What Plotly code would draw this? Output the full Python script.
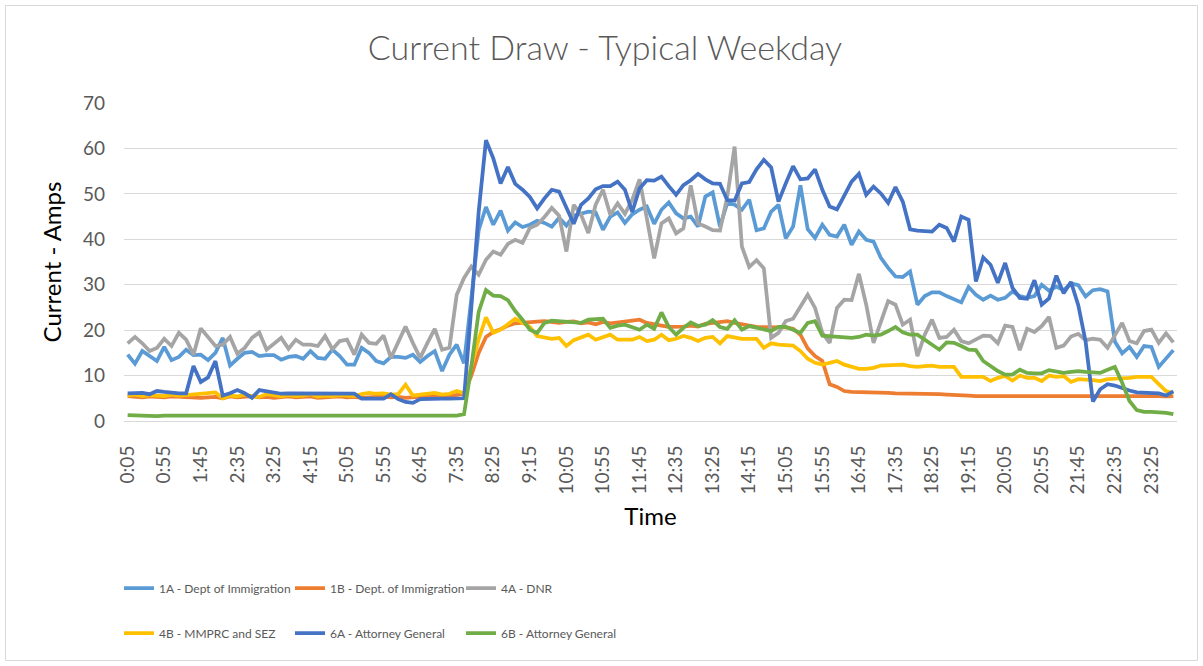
import plotly.graph_objects as go

# Time of day, every 10 minutes from 0:05 to 23:55
times = [f"{(5 + 10 * k) // 60}:{(5 + 10 * k) % 60:02d}" for k in range(144)]
tick_labels = times[::5]

s1a = [14.6, 12.6, 15.4, 14.3, 13.2, 16.3, 13.4, 14.1, 15.7, 14.5,
       14.6, 13.4, 15.0, 18.3, 12.2, 13.7, 15.0, 15.2, 14.3, 14.5,
       14.5, 13.5, 14.1, 14.3, 13.7, 15.4, 13.9, 13.7, 15.7, 14.3,
       12.4, 12.4, 16.1, 15.0, 13.2, 12.7, 14.1, 14.1, 13.9, 14.6,
       13.0, 14.3, 15.4, 11.0, 14.6, 16.8, 12.7, 27.0, 42.0, 47.1,
       43.2, 46.3, 41.9, 43.7, 42.7, 43.2, 44.1, 43.6, 42.8, 44.7,
       43.0, 45.2, 45.6, 46.1, 45.9, 42.1, 45.0, 45.9, 43.6, 45.5,
       46.5, 47.2, 43.4, 46.5, 48.1, 45.7, 44.6, 45.0, 42.8, 49.4,
       50.3, 42.8, 48.0, 47.6, 46.5, 48.7, 42.0, 42.4, 46.1, 47.6,
       40.2, 42.8, 51.9, 42.2, 40.3, 43.2, 41.0, 40.6, 43.2, 38.8,
       41.7, 39.9, 39.5, 35.9, 33.7, 31.8, 31.7, 32.9, 25.6, 27.5,
       28.3, 28.3, 27.5, 26.7, 26.1, 29.5, 27.8, 26.7, 27.6, 26.7,
       27.1, 28.5, 27.5, 27.1, 27.5, 30.0, 28.7, 29.6, 28.8, 30.3,
       29.9, 27.4, 28.8, 29.0, 28.5, 17.5, 14.9, 16.3, 14.1, 16.5,
       16.3, 11.9, 13.8, 15.6]

s1b = [5.5, 5.3, 5.2, 5.4, 5.3, 5.2, 5.4, 5.3, 5.2, 5.3,
       5.1, 5.2, 5.3, 5.0, 5.4, 5.2, 5.3, 5.5, 5.2, 5.3,
       5.1, 5.3, 5.4, 5.2, 5.3, 5.4, 5.1, 5.2, 5.3, 5.4,
       5.2, 5.3, 5.1, 5.2, 5.3, 5.4, 5.2, 5.3, 5.1, 5.3,
       5.4, 5.5, 5.3, 5.6, 5.5, 5.8, 6.0, 10.0, 15.0, 18.5,
       19.6, 20.2, 21.0, 21.5, 21.7, 21.8, 21.9, 22.0, 21.8, 21.6,
       21.8, 21.9, 21.5, 21.7, 21.3, 21.8, 21.5, 21.6, 21.9, 22.1,
       22.3, 21.6, 21.2, 21.0, 20.7, 20.7, 20.8, 21.0, 20.8, 21.4,
       21.6, 21.7, 22.0, 21.6, 21.2, 21.0, 20.7, 20.7, 20.6, 20.5,
       20.6, 20.3, 19.0, 16.0, 14.3, 13.2, 8.1, 7.5, 6.6, 6.4,
       6.4, 6.4, 6.3, 6.3, 6.2, 6.1, 6.1, 6.0, 6.0, 5.9,
       5.9, 5.9, 5.8, 5.8, 5.7, 5.6, 5.5, 5.5, 5.6, 5.6,
       5.7, 5.7, 5.6, 5.5, 5.6, 5.6, 5.7, 5.6, 5.6, 5.5,
       5.5, 5.6, 5.6, 5.6, 5.7, 5.6, 5.5, 5.5, 5.5, 5.6,
       5.6, 5.5, 5.4, 5.5]

s4a = [17.1, 18.5, 17.1, 15.4, 16.1, 18.1, 16.5, 19.4, 17.9, 14.6,
       20.4, 18.3, 16.5, 16.8, 18.5, 14.8, 16.1, 18.3, 19.5, 15.7,
       17.1, 18.3, 15.9, 17.9, 16.8, 16.8, 16.5, 18.7, 15.8, 17.6,
       17.9, 14.6, 19.0, 17.2, 17.0, 18.8, 13.9, 17.2, 20.8, 17.2,
       13.9, 17.2, 20.3, 15.7, 16.1, 27.8, 31.5, 34.0, 32.2, 35.5,
       37.3, 36.6, 39.0, 39.9, 39.2, 42.5, 43.2, 44.9, 46.9, 45.2,
       37.3, 47.6, 45.4, 41.4, 47.6, 50.9, 45.4, 47.9, 45.6, 48.7,
       53.2, 44.6, 35.8, 43.5, 44.6, 41.3, 42.4, 51.9, 43.5, 42.8,
       42.0, 41.9, 49.4, 60.4, 38.4, 33.9, 35.4, 33.6, 18.3, 19.4,
       22.0, 22.5, 25.3, 27.8, 24.9, 19.4, 17.2, 24.9, 26.7, 26.6,
       32.4, 25.6, 17.2, 21.6, 26.4, 25.6, 21.2, 22.3, 14.3, 19.0,
       22.3, 18.3, 18.5, 20.1, 17.6, 17.1, 17.9, 18.8, 18.7, 17.1,
       21.0, 20.7, 15.6, 20.3, 19.6, 20.9, 22.9, 16.1, 16.6, 18.6,
       19.2, 17.8, 18.1, 17.9, 16.1, 19.0, 21.6, 17.6, 17.1, 19.8,
       20.1, 17.2, 19.3, 17.3]

s4b = [5.6, 5.8, 5.5, 5.7, 5.6, 5.5, 5.8, 5.6, 5.7, 5.9,
       6.1, 6.2, 6.3, 5.0, 5.6, 5.4, 5.8, 5.5, 5.3, 5.9,
       5.6, 5.4, 5.7, 5.5, 5.6, 5.9, 5.4, 5.6, 5.5, 5.7,
       5.6, 5.5, 5.9, 6.2, 6.0, 6.1, 5.8, 5.9, 8.0, 5.6,
       5.8, 6.0, 6.2, 5.8, 6.0, 6.6, 6.1, 12.0, 18.0, 22.8,
       19.4, 20.1, 21.2, 22.5, 21.6, 20.7, 18.7, 18.3, 18.1, 18.3,
       16.5, 17.8, 18.5, 19.0, 17.9, 18.5, 19.0, 17.9, 17.8, 17.9,
       18.5, 17.6, 17.9, 19.0, 17.8, 18.1, 18.7, 18.3, 17.6, 18.3,
       18.5, 17.1, 18.7, 18.3, 18.1, 18.1, 18.1, 16.1, 17.1, 16.8,
       16.8, 16.6, 15.4, 13.7, 12.8, 12.4, 12.8, 13.2, 12.4, 11.9,
       11.5, 11.5, 11.7, 12.2, 12.2, 12.2, 12.4, 12.1, 11.9, 12.1,
       12.2, 11.9, 11.9, 11.9, 9.7, 9.7, 9.9, 9.7, 8.8, 9.5,
       9.9, 8.9, 10.0, 9.5, 9.5, 8.8, 10.0, 9.7, 9.9, 8.6,
       9.2, 9.2, 9.0, 8.8, 9.2, 9.3, 9.3, 9.5, 9.7, 9.7,
       9.7, 8.1, 6.6, 6.1]

s6a = [6.1, 6.1, 6.2, 5.9, 6.6, 6.4, 6.2, 6.1, 6.1, 12.1,
       8.6, 9.6, 13.2, 5.6, 6.1, 6.8, 6.1, 5.1, 6.8, 6.6,
       6.2, 6.0, 6.1, 6.1, 6.1, 6.1, 6.0, 6.1, 6.1, 6.1,
       6.1, 6.0, 4.9, 4.9, 4.8, 4.9, 5.9, 4.8, 4.2, 4.0,
       4.8, 4.9, 4.9, 4.9, 4.9, 4.9, 5.0, 25.0, 46.0, 61.8,
       57.8, 52.3, 55.9, 52.2, 50.9, 49.3, 46.8, 49.0, 50.9, 50.5,
       47.0, 43.4, 47.6, 49.0, 51.0, 51.7, 51.7, 52.7, 50.9, 46.0,
       51.2, 53.0, 52.9, 53.8, 51.7, 49.8, 51.9, 53.0, 54.4, 53.2,
       52.3, 52.2, 48.6, 48.5, 52.3, 52.6, 55.4, 57.5, 55.8, 48.3,
       52.3, 56.1, 53.2, 53.4, 55.4, 50.9, 47.2, 46.6, 49.6, 52.7,
       54.4, 49.8, 51.6, 50.1, 48.0, 51.5, 48.3, 42.2, 41.9, 41.7,
       41.7, 43.2, 42.5, 39.5, 45.0, 44.3, 30.7, 36.0, 34.4, 30.4,
       34.8, 29.3, 27.1, 26.9, 31.0, 25.6, 27.0, 32.0, 28.1, 30.6,
       25.5, 17.5, 4.3, 7.0, 8.1, 7.8, 7.2, 6.7, 6.3, 6.2,
       6.2, 6.1, 5.6, 6.5]

s6b = [1.3, 1.2, 1.2, 1.2, 1.1, 1.2, 1.2, 1.2, 1.2, 1.1,
       1.2, 1.2, 1.2, 1.2, 1.2, 1.1, 1.2, 1.2, 1.2, 1.2,
       1.2, 1.1, 1.2, 1.2, 1.2, 1.2, 1.2, 1.1, 1.2, 1.2,
       1.2, 1.2, 1.2, 1.1, 1.2, 1.2, 1.2, 1.2, 1.2, 1.1,
       1.2, 1.2, 1.2, 1.2, 1.2, 1.2, 1.5, 12.0, 24.0, 28.8,
       27.6, 27.5, 26.6, 24.2, 22.3, 20.1, 19.4, 21.6, 22.1, 22.0,
       21.7, 21.6, 21.6, 22.3, 22.5, 22.5, 20.5, 21.0, 21.2, 20.7,
       20.1, 21.2, 20.3, 23.9, 20.7, 19.0, 20.5, 21.7, 20.9, 21.2,
       22.2, 20.7, 20.3, 22.2, 20.1, 20.9, 20.5, 20.3, 19.8, 20.7,
       20.7, 20.1, 19.4, 21.6, 22.0, 18.8, 18.7, 18.5, 18.3, 18.3,
       18.5, 19.0, 18.8, 19.0, 19.8, 20.7, 19.5, 19.0, 19.0, 17.9,
       16.6, 15.7, 17.3, 17.2, 16.5, 15.7, 15.6, 13.2, 12.1, 11.0,
       10.2, 10.2, 11.3, 10.6, 10.5, 10.5, 11.2, 10.8, 10.6, 10.8,
       11.0, 10.8, 10.8, 10.6, 11.3, 11.9, 8.4, 4.4, 2.4, 2.0,
       2.0, 2.0, 1.8, 1.5]

names = ["1A - Dept of Immigration", "1B - Dept. of Immigration", "4A - DNR",
         "4B - MMPRC and SEZ", "6A - Attorney General", "6B - Attorney General"]
series = [s1a, s1b, s4a, s4b, s6a, s6b]
colors = ["#5B9BD5", "#ED7D31", "#A5A5A5", "#FFC000", "#4472C4", "#70AD47"]
legend_ids = ["legend", "legend", "legend", "legend2", "legend2", "legend2"]

W, H = 1203, 666
GRID = "#D9D9D9"
TXT = "#595959"
FONT = "Lato, 'Open Sans', sans-serif"

fig = go.Figure()
for name, vals, col, lg in zip(names, series, colors, legend_ids):
    fig.add_trace(go.Scatter(
        x=times, y=vals, name=name, mode="lines",
        line=dict(color=col, width=3.75),
        legend=lg,
    ))

legend_common = dict(
    orientation="h", xref="container", yref="container",
    xanchor="left", yanchor="middle",
    font=dict(family=FONT, size=12, color=TXT),
    entrywidth=126, entrywidthmode="pixels",
    bgcolor="rgba(0,0,0,0)", borderwidth=0, traceorder="normal",
)

fig.update_layout(
    width=W, height=H,
    margin=dict(l=124, r=26, t=103, b=245),
    paper_bgcolor="white", plot_bgcolor="white",
    font=dict(family=FONT, color=TXT),
    title=dict(
        text="Current Draw - Typical Weekday",
        x=605 / W, xref="container", xanchor="center",
        y=1 - 48 / H, yref="container", yanchor="middle",
        font=dict(family=FONT, size=34, color=TXT, weight=300),
    ),
    legend=dict(x=119 / W, y=1 - 588 / H, **legend_common),
    legend2=dict(x=119 / W, y=1 - 633 / H, **legend_common),
    showlegend=True,
    shapes=[dict(
        type="rect", xref="paper", yref="paper",
        x0=(5.5 - 124) / 1053, x1=(1197.5 - 124) / 1053,
        y0=(421 - 660.5) / 318, y1=(421 - 5.5) / 318,
        line=dict(color=GRID, width=1), fillcolor="rgba(0,0,0,0)", layer="below",
    )],
)

fig.update_xaxes(
    type="category", range=[-0.5, 143.5],
    tickmode="array", tickvals=tick_labels, ticktext=tick_labels,
    tickangle=-90, tickfont=dict(family=FONT, size=19, color=TXT),
    showgrid=False, showline=True, linecolor=GRID, linewidth=1,
    ticks="", ticklabelstandoff=16,
    title=dict(text="Time", font=dict(family=FONT, size=24, color="#000000"), standoff=14),
)
fig.update_yaxes(
    range=[0, 70], dtick=10, tick0=0,
    showgrid=True, gridcolor=GRID, gridwidth=1,
    zeroline=False, showline=False, ticks="",
    tickfont=dict(family=FONT, size=19, color=TXT), ticklabelstandoff=18,
    title=dict(text="Current - Amps", font=dict(family=FONT, size=24, color="#000000"), standoff=14),
)

fig.write_html("out.html")
